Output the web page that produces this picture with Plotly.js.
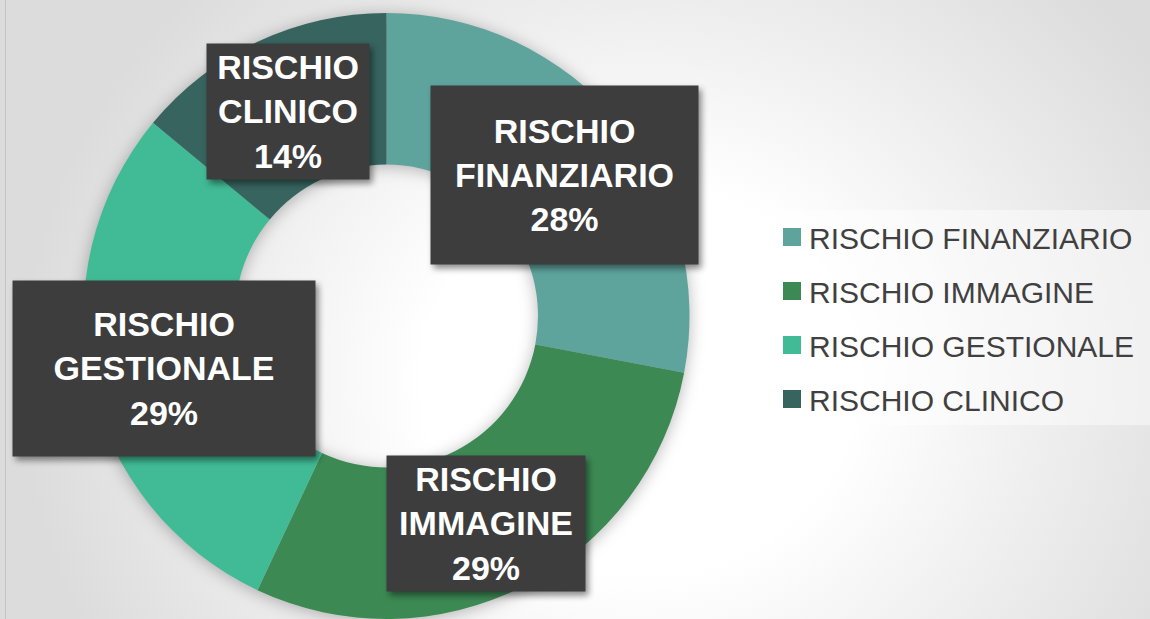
<!DOCTYPE html>
<html>
<head>
<meta charset="utf-8">
<script src="https://cdn.plot.ly/plotly-3.0.1.min.js"></script>
<style>
  html, body { margin: 0; padding: 0; width: 1150px; height: 619px; overflow: hidden; }
  body { background: radial-gradient(ellipse 620px 560px at 640px 380px, #ffffff 0%, #ffffff 35%, #ececec 70%, #dcdcdc 100%); }
  #frame { position: absolute; left: 5px; top: 0; width: 1px; height: 619px; background: #c4c4c4; }
  #chart { position: absolute; left: 0; top: 0; width: 1150px; height: 619px; }
  .pielayer { filter: drop-shadow(0px 2px 8px rgba(0,0,0,0.28)); }
  .annotation rect.bg { filter: drop-shadow(3px 4px 3px rgba(0,0,0,0.45)); }
</style>
</head>
<body>
<div id="frame"></div>
<div id="chart"></div>
<script>
// ---- data ----
var categories = ["RISCHIO FINANZIARIO", "RISCHIO IMMAGINE", "RISCHIO GESTIONALE", "RISCHIO CLINICO"];
var values = [28, 29, 29, 14];
var colors = ["#5fa39d", "#3d8954", "#41bb95", "#37645f"];

// ---- label box layout (paper coords, box sizes in px) ----
var W = 1150, H = 619, MT = 13;
function px(x) { return x / W; }
function py(y) { return (H - y) / (H - MT); }
var labelBoxes = [
  {cx: 564.5, cy: 175, w: 267, h: 178},
  {cx: 486, cy: 523.5, w: 198, h: 135},
  {cx: 164, cy: 368.5, w: 302, h: 175},
  {cx: 288, cy: 111.5, w: 162, h: 135}
];

var total = values.reduce(function(a, b) { return a + b; }, 0);
var annotations = categories.map(function(c, i) {
  var b = labelBoxes[i];
  var pct = Math.round(values[i] / total * 100) + "%";
  return {
    xref: "paper", yref: "paper",
    x: px(b.cx), y: py(b.cy),
    xanchor: "center", yanchor: "middle",
    showarrow: false,
    text: "<b>" + c.replace(" ", "<br>") + "<br>" + pct + "</b>",
    font: {family: "Liberation Sans, Arial, sans-serif", size: 34, color: "#ffffff"},
    bgcolor: "#3d3d3d",
    borderpad: 0,
    width: b.w, height: b.h,
    align: "center", valign: "middle"
  };
});

var trace = {
  type: "pie",
  labels: categories,
  values: values,
  marker: {colors: colors, line: {width: 0}},
  hole: 0.5,
  sort: false,
  direction: "clockwise",
  rotation: 0,
  textinfo: "none",
  hoverinfo: "label+percent",
  domain: {x: [83.5 / W, 689.5 / W], y: [0, 1]}
};

var layout = {
  width: W, height: H,
  margin: {l: 0, r: 0, t: MT, b: 0, pad: 0},
  paper_bgcolor: "rgba(0,0,0,0)",
  plot_bgcolor: "rgba(0,0,0,0)",
  showlegend: true,
  legend: {
    x: px(769), xanchor: "left",
    y: py(318), yanchor: "middle",
    bgcolor: "rgba(255,255,255,0.45)",
    font: {family: "Liberation Sans, Arial, sans-serif", size: 30, color: "#404040"},
    itemclick: false, itemdoubleclick: false
  },
  annotations: annotations
};

Plotly.newPlot("chart", [trace], layout, {displayModeBar: false, staticPlot: true}).then(function(gd) {
  // widen legend spacing and enlarge swatches to match the reference look
  var leg = gd.querySelector(".legend");
  if (!leg) return;
  var rowGap = 54, firstRow = 27;
  leg.setAttribute("transform", "translate(769,210)");
  var bg = leg.querySelector("rect.bg");
  if (bg) { bg.setAttribute("width", 381); bg.setAttribute("height", 215); bg.setAttribute("x", 0); bg.setAttribute("y", 0); }
  var sb = leg.querySelector(".scrollbox");
  if (sb) { sb.removeAttribute("clip-path"); sb.setAttribute("transform", "translate(0,0)"); }
  var traces = leg.querySelectorAll(".traces");
  traces.forEach(function(t, i) {
    t.setAttribute("transform", "translate(0," + (firstRow + rowGap * i) + ")");
  });
  leg.querySelectorAll(".legendpoints path").forEach(function(p) {
    p.setAttribute("transform", "translate(23,0) scale(1.5)");
  });
});
</script>
</body>
</html>
